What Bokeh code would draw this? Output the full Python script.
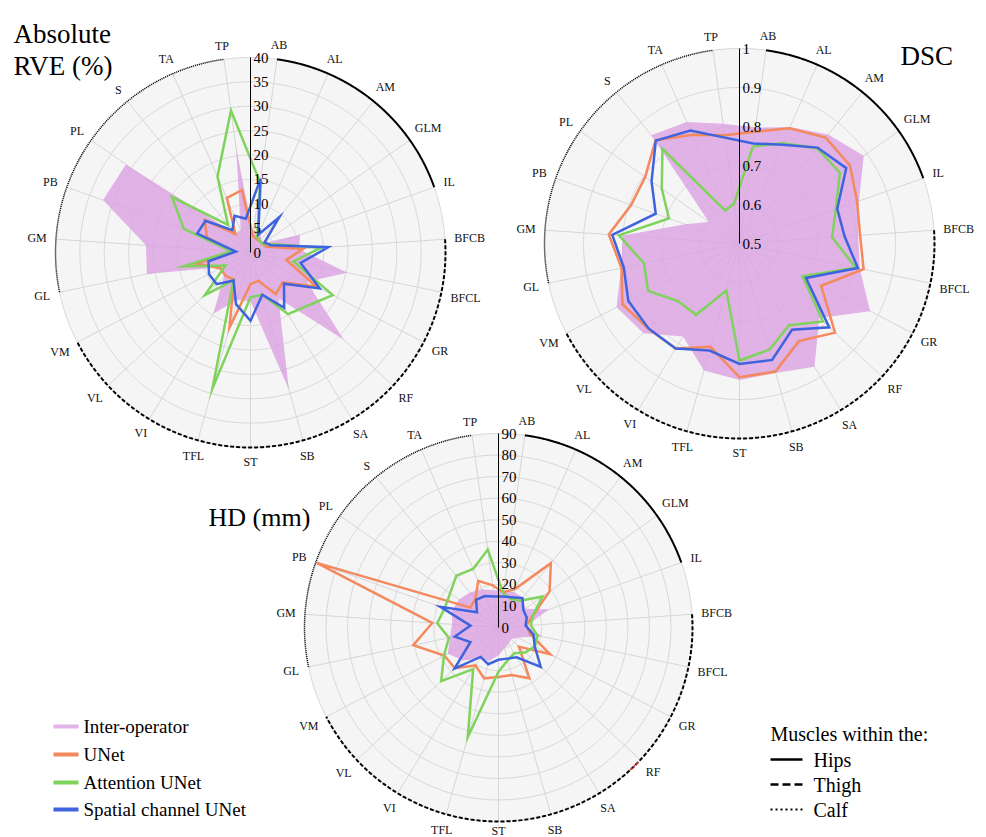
import numpy as np
from bokeh.plotting import figure
from bokeh.models import Range1d
from bokeh.embed import file_html
from bokeh.resources import INLINE
from bokeh.core.properties import value

# ---------------------------------------------------------------- data
muscles = ["AB", "AL", "AM", "GLM", "IL",
           "BFCB", "BFCL", "GR", "RF", "SA", "SB", "ST", "TFL", "VI", "VL", "VM",
           "GL", "GM", "PB", "PL", "S", "TA", "TP"]
hips_muscles = ["AB", "AL", "AM", "GLM", "IL"]
thigh_muscles = ["BFCB", "BFCL", "GR", "RF", "SA", "SB", "ST", "TFL", "VI", "VL", "VM"]
calf_muscles = ["GL", "GM", "PB", "PL", "S", "TA", "TP"]

series_names = ["Inter-operator", "UNet", "Attention UNet", "Spatial channel UNet"]

# Absolute relative volume error (%)
rve_inter = [4.0, 5.0, 3.5, 3.5, 10.8, 10.0, 20.3, 13.0, 26.2, 11.0, 29.2, 10.0,
             10.0, 14.7, 7.5, 6.5, 21.7, 21.5, 32.1, 31.3, 5.0, 5.0, 21.5]
rve_unet = [3.5, 3.0, 3.0, 3.0, 3.5, 10.8, 7.5, 15.2, 9.0, 10.0, 6.0, 6.5,
            16.0, 6.5, 7.0, 7.0, 11.2, 3.7, 9.5, 11.5, 4.9, 12.2, 12.9]
rve_att = [14.5, 3.5, 3.0, 3.0, 5.0, 14.5, 9.0, 19.0, 16.0, 14.8, 9.0, 9.2,
           29.0, 6.7, 12.8, 5.8, 14.0, 4.0, 14.5, 19.7, 7.3, 17.0, 29.4]
rve_scu = [15.3, 4.0, 9.4, 3.5, 4.5, 16.0, 10.5, 16.0, 9.4, 13.3, 9.0, 14.0,
           11.0, 6.7, 9.5, 9.6, 8.8, 3.0, 11.6, 11.3, 5.9, 8.2, 7.0]
rve_ticks = [0, 5, 10, 15, 20, 25, 30, 35, 40]
rve_tick_labels = ["0", "5", "10", "15", "20", "25", "30", "35", "40"]

# Dice similarity coefficient
dsc_inter = [0.800, 0.826, 0.860, 0.890, 0.825, 0.805, 0.815, 0.877, 0.780, 0.870, 0.845, 0.850,
             0.838, 0.779, 0.837, 0.855, 0.810, 0.800, 0.648, 0.596, 0.858, 0.840, 0.810]
dsc_unet = [0.789, 0.822, 0.850, 0.847, 0.820, 0.810, 0.825, 0.736, 0.835, 0.793, 0.841, 0.843,
            0.775, 0.815, 0.820, 0.838, 0.809, 0.836, 0.795, 0.796, 0.841, 0.804, 0.780]
dsc_att = [0.751, 0.780, 0.815, 0.815, 0.762, 0.738, 0.804, 0.682, 0.793, 0.745, 0.783, 0.800,
           0.625, 0.714, 0.716, 0.764, 0.750, 0.810, 0.692, 0.744, 0.813, 0.592, 0.603]
dsc_scu = [0.759, 0.776, 0.817, 0.835, 0.766, 0.770, 0.810, 0.692, 0.815, 0.759, 0.810, 0.809,
           0.785, 0.815, 0.819, 0.821, 0.803, 0.827, 0.728, 0.776, 0.840, 0.816, 0.774]
dsc_ticks = [0.5, 0.6, 0.7, 0.8, 0.9, 1.0]
dsc_tick_labels = ["0.5", "0.6", "0.7", "0.8", "0.9", "1"]

# Hausdorff distance (mm)
hd_inter = [17.5, 18.0, 18.0, 15.0, 24.8, 13.0, 20.8, 10.0, 8.0, 9.0, 10.0, 13.0,
            16.0, 17.0, 22.4, 26.5, 23.0, 21.6, 22.8, 22.5, 21.0, 19.4, 17.5]
hd_unet = [16.5, 19.6, 38.5, 29.0, 17.0, 13.0, 15.0, 27.0, 13.0, 27.6, 22.9, 23.0,
           24.5, 20.6, 27.7, 28.3, 40.4, 30.8, 89.5, 16.0, 17.0, 23.6, 19.7]
hd_att = [16.0, 14.4, 16.0, 25.0, 17.0, 15.0, 18.5, 19.0, 17.0, 14.0, 15.8, 20.5,
          52.8, 22.6, 36.4, 28.5, 23.5, 28.5, 26.5, 27.5, 31.0, 29.6, 36.5]
hd_scu = [14.5, 15.3, 17.6, 14.1, 13.9, 12.6, 16.6, 18.9, 26.8, 16.2, 15.0, 15.0,
          17.7, 16.0, 27.9, 14.7, 20.7, 13.0, 28.6, 12.2, 16.5, 15.9, 14.5]
hd_ticks = [0, 10, 20, 30, 40, 50, 60, 70, 80, 90]
hd_tick_labels = ["0", "10", "20", "30", "40", "50", "60", "70", "80", "90"]

# ---------------------------------------------------------------- style
SERIF = "Liberation Serif"
DISC_BG = "#f5f5f5"
GRID = "#d6d6d6"
PURPLE = "#dba1e2"
ORANGE = "#f4895e"
GREEN = "#7fd35c"
BLUE = "#3f63de"

W, H = 986, 837
p = figure(width=W, height=H, x_range=Range1d(0, W), y_range=Range1d(H, 0),
           output_backend="svg", toolbar_location=None, min_border=0)
p.axis.visible = False
p.grid.visible = False
p.outline_line_color = None
p.background_fill_color = "white"
p.border_fill_color = "white"

N = len(muscles)
theta = np.deg2rad((np.arange(N) + 0.5) * 360.0 / N)   # clockwise from 12 o'clock

# approximate glyph advance widths (em) of the serif face, for label spacing
CHAR_W = {"A": .722, "B": .667, "C": .667, "F": .556, "G": .722, "I": .333, "L": .611,
          "M": .889, "P": .556, "R": .667, "S": .556, "T": .611, "V": .722}
LABEL_FS = 12


def label_width(s):
    return sum(CHAR_W.get(c, .6) for c in s) * LABEL_FS


def draw_radar(cx, cy, R, ticks, tick_text, inter, unet, att, scu, red_tick=None):
    lo, hi = ticks[0], ticks[-1]

    def rad(v):
        return (np.asarray(v, dtype=float) - lo) / (hi - lo) * R

    def polar(r, th):
        return cx + r * np.sin(th), cy - r * np.cos(th)

    full = np.linspace(0, 2 * np.pi, 721)
    bx, by = polar(R, full)
    p.patch(bx, by, fill_color=DISC_BG, line_color=None)

    # concentric grid rings
    xs, ys = [], []
    for t in ticks[1:]:
        x, y = polar(rad(t), full)
        xs.append(x)
        ys.append(y)
    p.multi_line(xs, ys, line_color=GRID, line_width=1)

    # spokes
    ex, ey = polar(R, theta)
    p.segment(x0=np.full(N, cx), y0=np.full(N, cy), x1=ex, y1=ey,
              line_color=GRID, line_width=1)

    # inter-operator area
    ix, iy = polar(rad(inter), theta)
    p.patch(ix, iy, fill_color=PURPLE, fill_alpha=0.8, line_color=None)

    # model traces
    for vals, col in ((unet, ORANGE), (att, GREEN), (scu, BLUE)):
        x, y = polar(rad(vals), theta)
        p.line(np.append(x, x[0]), np.append(y, y[0]), line_color=col,
               line_width=2.5, line_join="miter")

    # radial axis with its tick labels
    p.line([cx, cx], [cy, cy - R], line_color="black", line_width=1)
    p.text(x=np.full(len(ticks), cx + 3.0), y=cy - rad(ticks), text=tick_text,
           text_font=value(SERIF), text_font_size="15px", text_color="black",
           text_align="left", text_baseline="middle")

    # outer rim: region of the body
    for group, dash, lw in ((hips_muscles, "solid", 2.0),
                            (thigh_muscles, "4 2", 2.0),
                            (calf_muscles, "1 1", 1.5)):
        i0, i1 = muscles.index(group[0]), muscles.index(group[-1])
        th = np.linspace(theta[i0], theta[i1], 240)
        x, y = polar(R, th)
        p.line(x, y, line_color="black", line_width=lw, line_dash=dash)

    if red_tick is not None:
        th = np.deg2rad(np.linspace(red_tick[0], red_tick[1], 20))
        x, y = polar(R, th)
        p.line(x, y, line_color="#e8302a", line_width=1.5, line_dash="3 1")

    # category labels, pushed out according to their box size
    pad, h = 9.0, 9.0
    widths = np.array([label_width(m) for m in muscles])
    dist = R + pad + np.abs(np.sin(theta)) * widths / 2 + np.abs(np.cos(theta)) * h / 2
    lx, ly = polar(dist, theta)
    ly = np.minimum(ly + 0.5, H - 7.0)   # keep the lowest label inside the canvas
    p.text(x=lx, y=ly, text=muscles, text_font=value(SERIF),
           text_font_size=f"{LABEL_FS}px", text_color="#111111",
           text_align="center", text_baseline="middle")


draw_radar(250, 252, 195, rve_ticks, rve_tick_labels, rve_inter, rve_unet, rve_att, rve_scu)
draw_radar(739, 243, 195, dsc_ticks, dsc_tick_labels, dsc_inter, dsc_unet, dsc_att, dsc_scu)
draw_radar(498, 627, 194, hd_ticks, hd_tick_labels, hd_inter, hd_unet, hd_att, hd_scu,
           red_tick=(134.0, 137.5))

# panel titles
p.text(x=[13, 13], y=[33, 65], text=["Absolute", "RVE (%)"], text_font=value(SERIF),
       text_font_size="27px", text_color="black", text_align="left",
       text_baseline="alphabetic")
p.text(x=[900], y=[55], text=["DSC"], text_font=value(SERIF), text_font_size="27px",
       text_color="black", text_align="left", text_baseline="alphabetic")
p.text(x=[208], y=[517], text=["HD (mm)"], text_font=value(SERIF), text_font_size="26px",
       text_color="black", text_align="left", text_baseline="alphabetic")

# series key
key_y = np.array([726, 754, 782, 809], dtype=float)
key_colors = [PURPLE, ORANGE, GREEN, BLUE]
key_alpha = [0.8, 1, 1, 1]
p.segment(x0=np.full(4, 53.0), y0=key_y, x1=np.full(4, 78.0), y1=key_y,
          line_color=key_colors, line_alpha=key_alpha, line_width=4)
p.text(x=np.full(4, 83.0), y=key_y, text=series_names, text_font=value(SERIF),
       text_font_size="19px", text_color="black", text_align="left",
       text_baseline="middle")

# region key
p.text(x=[770], y=[733], text=["Muscles within the:"], text_font=value(SERIF),
       text_font_size="20px", text_color="black", text_align="left",
       text_baseline="middle")
region_y = [759, 784, 809]
for yy, dash, lw in zip(region_y, ["solid", "8 4", "2 3"], [2.5, 2.5, 2.0]):
    p.line([770, 802], [yy, yy], line_color="black", line_width=lw, line_dash=dash)
p.text(x=[813, 813, 813], y=region_y, text=["Hips", "Thigh", "Calf"],
       text_font=value(SERIF), text_font_size="20px", text_color="black",
       text_align="left", text_baseline="middle")

open("out.html", "w").write(file_html(p, INLINE))
